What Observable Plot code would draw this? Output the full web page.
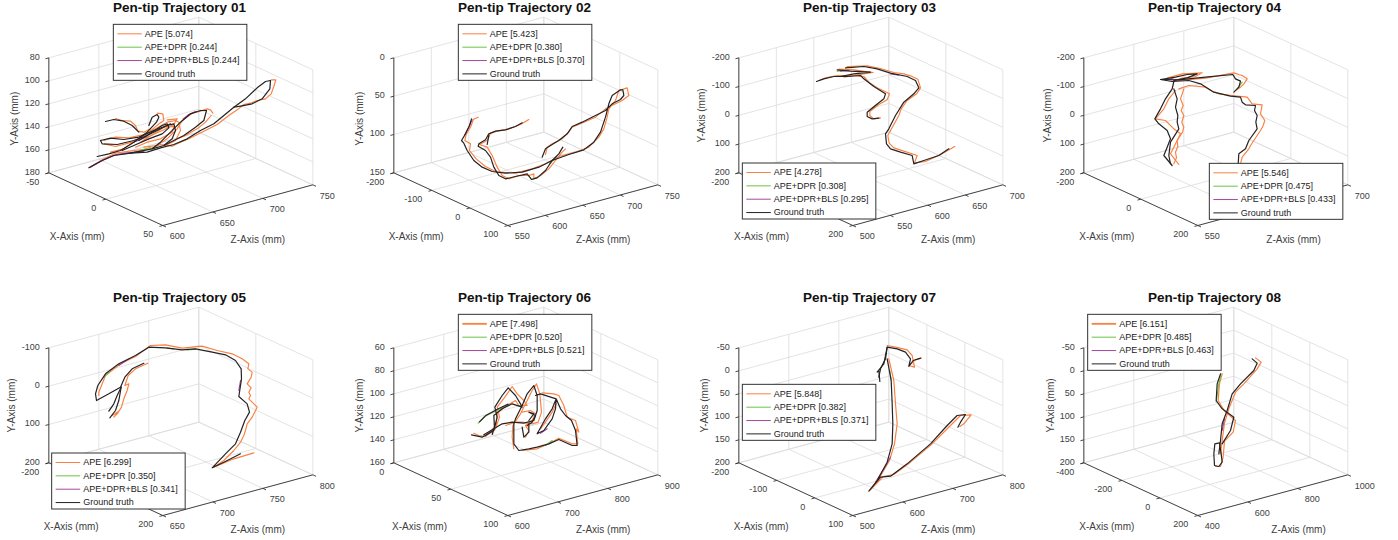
<!DOCTYPE html>
<html><head><meta charset="utf-8">
<script src="https://cdn.jsdelivr.net/npm/d3@7"></script>
<script src="https://cdn.jsdelivr.net/npm/@observablehq/plot@0.6"></script>
<style>html,body{margin:0;padding:0;background:#fff}svg{display:block}</style>
</head><body><div id="chart"></div>
<script>
const seriesNames = ["APE", "APE+DPR", "APE+DPR+BLS", "Ground truth"];
const seriesColors = ["#fa8040", "#6cc24a", "#a8479d", "#262224"];
const titles = ["01","02","03","04","05","06","07","08"].map(s => "Pen-tip Trajectory " + s);
const scores = [
  [5.074,0.244,0.244],[5.423,0.380,0.370],[4.278,0.308,0.295],[5.546,0.475,0.433],
  [6.299,0.350,0.341],[7.498,0.520,0.521],[5.848,0.382,0.371],[6.151,0.485,0.463]];
const xTicks = [[-50,0,50],[-200,-100,0,100],[-200,0,200],[-200,0,200],[-200,0,200],[0,50,100],[-200,-100,0,100],[-400,-200,0,200]];
const yTicks = [[80,100,120,140,160,180],[0,50,100,150],[-200,-100,0,100,200],[-200,-100,0,100,200],[-100,0,100,200],[60,80,100,120,140,160],[-50,0,50,100,150,200],[-50,0,50,100,150,200]];
const zTicks = [[600,650,700,750],[550,600,650,700,750],[500,550,600,650,700],[550,600,650,700],[650,700,750,800],[600,700,800,900],[500,600,700,800],[400,600,800,1000]];
// page placement of each panel's view and of the readings below (in thirds of a pixel)
const panelX = [0,345,690,1035,0,345,690,1035], panelY = [0,0,0,0,290,290,290,290];
const readX = [0,345,690,1040,0,345,690,1040], readY = [0,0,0,0,280,280,280,280];
const legendAt = [[340,73],[340,73],[157,489],[508,490],[155,519],[340,103],[157,313],[143,103]];
const yLabelAt = [[42,355],[42,355],[35,345],[22,345],[33,375],[42,375],[42,375],[30,375]];
const xLabelAt = [[230,710],[212,710],[213,710],[199,710],[212,740],[222,740],[212,740],[199,740]];
const zLabelAt = [[772,718],[773,718],[773,718],[759,718],[772,748],[773,748],[773,748],[774,748]];
const apeKeyWidth = [1,1,1,1,1,1.8,1,1.8];

// traces
const gt1 = [[810,240,808,265,785,295,755,310,720,317,700,320,670,345,640,370,600,390,560,415,520,432,480,442,440,455,390,458,340,465,305,480,265,502],
 [810,240,795,243,770,262,735,295,700,320],
 [618,330,600,330,570,340,540,365,510,395,480,425,455,445,390,458],
 [618,330,610,360,585,380,550,405,520,420,490,435],
 [315,363,340,357,370,362,395,375,415,395],
 [445,375,455,350,470,342,475,350,468,365,440,395,400,425,360,450,325,460,290,468],
 [300,420,330,413,370,417,415,410,460,390,500,375,520,370,525,390,515,415,490,435,455,445],
 [300,420,305,430,350,432,400,420,440,405,480,385,510,370],
 [415,420,455,395,485,375,500,370,505,382,485,400,445,415,400,435,365,450]];
const ape1 = [[812,238,826,238,820,258,812,280,795,295,770,300,750,308,730,312,710,328,685,345,650,372,610,392,565,415,530,430,515,437,480,432,450,445,400,450,345,458,305,478,268,500],
 [637,338,630,328,620,325,600,332,575,338,545,360,530,385,500,415,470,435,430,440],
 [632,345,615,365,590,385,555,405,525,418],
 [345,354,365,360,390,362,405,375,412,392,430,395,450,385],
 [470,338,487,340,490,360,478,368,445,395,410,418,370,445,330,455],
 [310,420,345,410,385,412,430,402,465,385,500,365,525,360,535,365,540,390,525,420,495,435],
 [312,430,345,438,395,425,445,408,490,388,520,372,530,355,500,358],
 [420,425,460,400,490,380,520,378,515,395,480,415,440,425,405,440]];
const dpr1 = [[450,440,400,456,360,462],[430,405,450,395,470,385]];
const bls1 = [[270,500,305,480,345,463,380,457,430,452],[548,355,565,342,585,333],[400,425,440,408]];

const gt2 = [[378,355,372,375,360,400,348,420,355,428,365,450,385,480,410,500,440,513,480,518,530,515,580,500,620,480,670,462,715,448,745,425,765,395,780,350,790,310,800,285,825,268,832,268,835,285,825,297,800,310,780,330,750,345,710,365,680,378,665,400,640,420,615,435,600,445,590,470],
 [530,367,510,378,480,388,450,392,430,400,420,418,400,430,398,437,420,450,435,470,445,500,460,525,480,535,510,528,545,520,558,537,575,532,600,510,620,480,640,460,652,440],[430,405,425,432]];
const ape2 = [[398,350,384,356,376,378,362,402,358,420,375,430,372,450,392,475,420,498,455,515,510,518,560,505,600,490,640,468,690,455,730,440,760,410,775,385,785,350,790,325,810,300,820,270,845,262,850,285,830,300,810,310,780,325,750,350,715,365,680,380,670,395,650,415,620,430,605,440,600,462],
 [550,357,525,372,490,385,455,392,435,398,425,420,402,432,425,440,440,465,455,500,470,525,490,535,520,525,550,525,565,520,565,535,585,525,610,505,630,480,650,455,660,445]];
const dpr2 = [[550,525,558,537,572,532],[612,490,632,470]];
const bls2 = [[380,358,370,380,358,402]];

const gt3 = [[378,243,400,235,430,228,470,228,510,225,520,235,550,258,585,280,580,295,555,315,530,335,530,348,545,355,565,353],
 [440,208,480,212,540,215,490,220,450,228],
 [465,202,520,198,560,205,600,218,650,228,675,240,685,262,670,280,640,305,615,345,595,385,585,400,588,430,600,445,630,455,665,465,670,490,700,480,745,465,775,445]];
const ape3 = [[385,240,405,232,440,225,490,225,520,228,535,245,560,262,597,280,590,298,565,312,538,333,538,345,550,355,570,352],
 [445,206,490,208,548,216,495,224,460,230],
 [470,198,530,196,570,204,610,216,640,220,660,226,682,236,690,262,680,278,650,300,632,325,625,345,603,385,592,405,596,428,610,442,640,452,680,465,672,487,705,483,750,462,793,438]];
const dpr3 = [[440,212,462,210],[545,322,560,310]];
const bls3 = [[450,212,475,210],[600,220,625,224]];

const gt4 = [[360,237,415,238,495,230,577,222,585,235,600,242,595,260,580,275],
 [360,237,395,243,445,240,480,250,520,275,570,287,600,290,605,305,615,313,645,315,642,330,650,345,646,365,650,385,625,420,615,445,595,460,593,490],
 [400,243,395,265,375,295,360,325,343,355,355,370,380,390,390,415,380,440,370,465,395,495],
 [400,265,410,295,405,320,412,345,410,365,415,385,390,425,385,465,390,490],
 [360,237,405,230,440,222,470,220,440,232,400,240]];
const ape4 = [[380,233,425,220,485,217,465,228,425,233,395,243],
 [415,240,495,233,580,217,595,222,605,225,620,235,610,250,600,260,585,270],
 [415,265,445,255,495,260,515,272,535,280,575,285,620,290,635,310,665,313,660,340,673,360,668,375,660,390,640,420,632,432,625,445,605,470,600,490],
 [405,270,385,295,370,325,345,355,375,360,400,385,420,400,405,430,390,460,415,492],
 [430,265,420,295,428,315,422,330,430,345,424,365,430,380,426,395,410,420,412,438,405,455,408,472,400,490]];
const dpr4 = [[605,245,590,265]];
const bls4 = [[380,238,400,232]];

const gt5 = [[430,248,395,265,373,290,360,320,325,340,288,360,285,340,292,315,315,280,355,250,405,225,445,200,495,202,545,208,585,205,635,215,675,223,705,240,722,265,723,295,715,348,740,370,747,395,733,420,720,455,705,490,680,515,635,562,670,545,720,520],
 [362,320,350,345,340,370,325,392],[362,320,355,360,345,390,328,412]];
const ape5 = [[442,248,405,265,383,285,373,315,385,310,380,330,370,355,363,380,350,400,340,410,355,392,335,405],
 [295,345,295,335,315,285,360,250,405,228,450,195,495,193,545,203,605,197,650,210,695,220,725,235,745,250,742,265,755,275,752,290,740,310,752,322,745,335,750,345,745,355,770,380,755,410,740,430,735,450,730,465,720,485,700,510,670,540,640,560,700,535,760,517]];
const dpr5 = [[310,290,325,275],[500,203,520,205],[560,208,585,206]];
const bls5 = [[355,255,385,235],[720,300,715,330]];

const gt6 = [[378,463,410,470,445,450,455,410,448,380,470,345,488,322,510,345,525,370,530,380,500,370,470,385,445,405,447,440,440,462],
 [415,463,445,445,470,430,500,425,535,428,565,420,575,390,575,345,565,315,545,340,530,375,510,415,505,430,505,490,520,510,550,505,575,500,610,490,640,477,680,495,695,495,690,450,678,420,660,405,645,385,632,355,620,385,600,415,575,460,595,450,620,415,630,385,632,355,585,340,570,345],
 [550,420,565,400,550,395,570,405,560,425,545,435],[530,440,535,470,550,455,550,430],[402,424,422,404,460,384,488,371]];
const ape6 = [[385,458,400,465,420,468,450,445,462,410,455,380,478,350,500,318,515,340,535,360,545,375,520,375,510,360,480,378,455,398,452,430,435,455],
 [505,505,500,470,502,435,525,400,545,360,560,330,573,310,583,340,588,395,578,425,560,430,530,425,510,425,480,435],
 [530,510,575,505,610,490,640,473,680,490,697,490,692,445,700,455,690,420,665,410,655,375,640,345,625,340,590,337],
 [632,370,620,395,600,425,585,445],
 [530,395,555,390,570,400,560,420,540,435,550,450,540,470]];
const dpr6 = [[398,428,418,408,456,388,492,374],[600,495,620,480]];
const bls6 = [[420,465,440,450],[585,458,605,445]];

const gt7 = [[568,303,565,270,560,275,580,250,590,200,620,205,645,215,660,235,655,258,668,240,690,233],[590,200,585,235,570,265,565,290],
 [590,235,602,300,605,370,607,430,605,490,590,545,560,600,535,632,570,590,600,587,650,550,720,490,770,435,800,405,825,402,810,425,802,440]];
const ape7 = [[590,195,615,200,650,208,665,225,672,260,655,255,675,238,693,233],[595,235,610,300,615,370,620,430,612,490,597,540,565,595,540,628,578,588,610,582,660,545,725,490,780,435,810,405,842,403,820,430,808,438]];
const dpr7 = [[598,270,602,300]];
const bls7 = [[600,530,580,565,555,605]];

const gt8 = [[635,235,650,248,640,270,600,310,575,340,560,390,545,430,540,480,535,520],
 [520,520,523,490,537,487,542,520,545,545,535,558,522,555,520,520],
 [540,280,530,310,527,360,545,385,580,410,570,450,545,490]];
const ape8 = [[645,232,662,245,650,265,610,310,585,335,565,385,552,428,545,480,540,520],[545,280,537,310,533,360,552,392,585,420,578,455,552,482,548,530,540,558,525,558]];
const dpr8 = [[542,280,535,310,527,365]];
const bls8 = [[552,415,545,450]];

const traces = [[ape1,dpr1,bls1,gt1],[ape2,dpr2,bls2,gt2],[ape3,dpr3,bls3,gt3],[ape4,dpr4,bls4,gt4],[ape5,dpr5,bls5,gt5],[ape6,dpr6,bls6,gt6],[ape7,dpr7,bls7,gt7],[ape8,dpr8,bls8,gt8]];

const L=[145,517], F=[487,675], R=[937,553], H=345;
const frac=(t,a)=>{const lo=a[0],hi=a[a.length-1];return (t-lo)/(hi-lo);};
const unit=(dx,dy)=>{const n=Math.hypot(dx,dy);return [dx/n,dy/n];};
const gridSegs=[],axisSegs=[],labels=[],lineRows=[[],[],[],[]],boxes=[],keys=[],texts=[];
titles.forEach((title,p)=>{
  const P=(u,v,w)=>[panelX[p]+(L[0]+u*(F[0]-L[0])+w*(R[0]-F[0]))/3, panelY[p]+(L[1]+u*(F[1]-L[1])+w*(R[1]-F[1])-v*H)/3];
  const seg=(list,a,b)=>list.push({x1:a[0],y1:a[1],x2:b[0],y2:b[1]});
  const xT=xTicks[p], yT=yTicks[p], zT=zTicks[p];
  zT.forEach(t=>{const w=frac(t,zT);seg(gridSegs,P(0,0,w),P(1,0,w));seg(gridSegs,P(0,0,w),P(0,1,w));});
  xT.forEach(t=>{const u=frac(t,xT);seg(gridSegs,P(u,0,0),P(u,0,1));seg(gridSegs,P(u,0,1),P(u,1,1));});
  yT.forEach(t=>{const v=1-frac(t,yT);seg(gridSegs,P(0,v,0),P(0,v,1));seg(gridSegs,P(0,v,1),P(1,v,1));});
  seg(axisSegs,P(0,0,0),P(1,0,0));seg(axisSegs,P(1,0,0),P(1,0,1));seg(axisSegs,P(0,0,0),P(0,1,0));
  const rx=readX[p], ry=readY[p];
  const at=(q)=>[rx+q[0]/3, ry+q[1]/3];
  const la=at(legendAt[p]);
  const hidden=(x,y)=>x>la[0]-6&&x<la[0]+140&&y>la[1]-4&&y<la[1]+60; // tick labels the legend sits on
  const pushLabel=(d)=>{ if(!hidden(d.x-(d.anchor==="end"?6:-6),d.y)) labels.push(d); };
  const dz=unit(R[0]-F[0],R[1]-F[1]), dx=unit(F[0]-L[0],F[1]-L[1]), tl=3.5;
  xT.forEach(t=>{const a=P(frac(t,xT),0,0);seg(axisSegs,a,[a[0]-dz[0]*tl,a[1]-dz[1]*tl]);
    pushLabel({x:a[0]-9.5,y:a[1]+9,t:String(t),anchor:"end"});});
  yT.forEach(t=>{const a=P(0,1-frac(t,yT),0);seg(axisSegs,a,[a[0]-dz[0]*tl,a[1]-dz[1]*tl]);
    pushLabel({x:a[0]-9,y:a[1]-1,t:String(t),anchor:"end"});});
  zT.forEach(t=>{const a=P(1,0,frac(t,zT));seg(axisSegs,a,[a[0]+dx[0]*tl,a[1]+dx[1]*tl]);
    pushLabel({x:a[0]+7,y:a[1]+11,t:String(t),anchor:"start"});});
  const xl=at(xLabelAt[p]), zl=at(zLabelAt[p]), yl=at(yLabelAt[p]);
  texts.push({x:xl[0],y:xl[1],t:"X-Axis (mm)",r:0},{x:zl[0],y:zl[1],t:"Z-Axis (mm)",r:0},{x:yl[0],y:yl[1],t:"Y-Axis (mm)",r:-90});
  labels.push({title:true,x:panelX[p]+179,y:panelY[p]+7.3,t:title,anchor:"middle"});
  traces[p].forEach((strokes,s)=>strokes.forEach((st,i)=>{
    for(let k=0;k<st.length;k+=2) lineRows[s].push({x:rx+st[k]/3,y:ry+st[k+1]/3,k:p+"-"+i});
  }));
  boxes.push({x1:la[0],y1:la[1],x2:la[0]+133.5,y2:la[1]+56});
  seriesNames.forEach((n,s)=>{
    const yy=la[1]+9+s*13.35;
    keys.push({x1:la[0]+4,x2:la[0]+28.5,y:yy,s,w:s===0?apeKeyWidth[p]:1});
    labels.push({legend:true,x:la[0]+31,y:yy,t:s<3?`${n} [${scores[p][s].toFixed(3)}]`:n,anchor:"start"});
  });
});
const base=labels.filter(d=>!d.title&&!d.legend), head=labels.filter(d=>d.title), legend=labels.filter(d=>d.legend);
const ff="Liberation Sans, Arial, sans-serif";
const common={x:"x",y:"y",text:"t",fontFamily:ff};
const txt=(rows,size,extra)=>["start","middle","end"].map(a=>Plot.text(rows.filter(d=>d.anchor===a),{...common,textAnchor:a,fontSize:size,fill:"#404040",...extra}));
const chart=Plot.plot({
  width:1398,height:540,margin:0,
  x:{domain:[0,1398],range:[0,1398],axis:null},
  y:{domain:[0,540],range:[0,540],axis:null},
  style:{background:"#fff"},
  marks:[
    Plot.link(gridSegs,{x1:"x1",y1:"y1",x2:"x2",y2:"y2",stroke:"#dcdcdc",strokeWidth:0.8}),
    Plot.link(axisSegs,{x1:"x1",y1:"y1",x2:"x2",y2:"y2",stroke:"#333",strokeWidth:0.9}),
    ...txt(base,9),
    Plot.text(texts.filter(d=>d.r===0),{...common,fontSize:10,fill:"#404040"}),
    Plot.text(texts.filter(d=>d.r!==0),{...common,fontSize:10,fill:"#404040",rotate:-90}),
    ...txt(head,13.5,{fill:"#111",fontWeight:"bold"}),
    ...seriesColors.map((c,s)=>Plot.line(lineRows[s],{x:"x",y:"y",z:"k",curve:"linear",stroke:c,strokeWidth:s===3?1.2:s===0?1.15:1.1,strokeLinejoin:"round"})),
    Plot.rect(boxes,{x1:"x1",x2:"x2",y1:"y1",y2:"y2",fill:"#fff",stroke:"#333",strokeWidth:1}),
    Plot.ruleY(keys,{x1:"x1",x2:"x2",y:"y",stroke:d=>seriesColors[d.s],strokeWidth:"w"}),
    ...txt(legend,9,{fill:"#222"})
  ]
});
document.getElementById("chart").append(chart);
</script></body></html>
